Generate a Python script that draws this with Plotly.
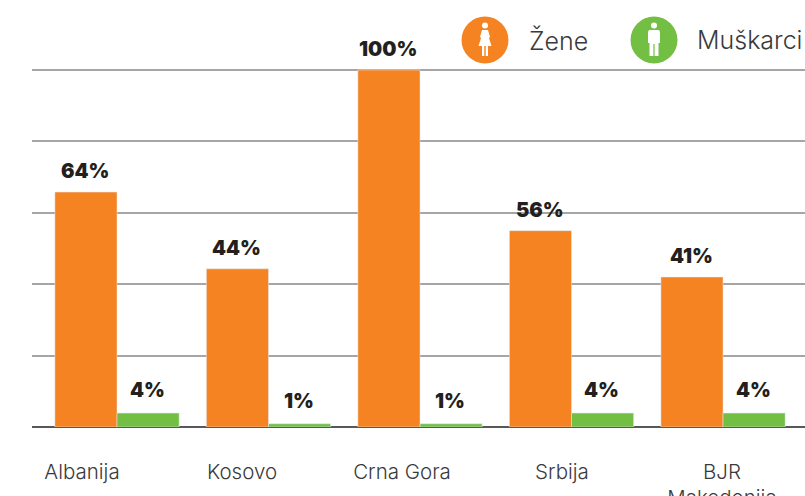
import plotly.graph_objects as go

groups = ["Albanija", "Kosovo", "Crna Gora", "Srbija", "BJR Makedonija"]
tick_labels = ["Albanija", "Kosovo", "Crna Gora", "Srbija", "BJR<br>Makedonija"]
zene_values = [65.8, 44.3, 100, 55, 42]
muskarci_values = [3.9, 0.9, 0.9, 3.9, 3.9]
zene_labels = ["64%", "44%", "100%", "56%", "41%"]
muskarci_labels = ["4%", "1%", "1%", "4%", "4%"]
ORANGE = "#F58322"
GREEN = "#72BF44"

W, H = 805, 496
L, R, T, B = 32, 0, 68, 69
PW, PH = W - L - R, H - T - B


def px(x):
    return (x - L) / PW


def py(y):
    return 1 - (y - T) / PH


def path(points):
    return "M " + " L ".join(f"{px(x):.5f},{py(y):.5f}" for x, y in points) + " Z"


def disc(cx, cy, r, color):
    return dict(type="circle", xref="paper", yref="paper", x0=px(cx - r), x1=px(cx + r),
                y0=py(cy + r), y1=py(cy - r), fillcolor=color, line_width=0, layer="above")


def poly(points):
    return dict(type="path", xref="paper", yref="paper", path=path(points),
                fillcolor="white", line_width=0, layer="above")


fig = go.Figure()
fig.add_bar(x=groups, y=zene_values, marker_color=ORANGE, name="Žene", showlegend=False)
fig.add_bar(x=groups, y=muskarci_values, marker_color=GREEN, name="Muškarci", showlegend=False)
# invisible trace that carries the category labels on their own axis
fig.add_scatter(x=tick_labels, y=[0] * 5, xaxis="x2", mode="markers",
                marker=dict(opacity=0), showlegend=False, hoverinfo="skip")

annotations = []
label_font = dict(family="Inter", size=20, color="#231F20", weight=900)
for g, v, t in zip(groups, zene_values, zene_labels):
    annotations.append(dict(x=g, y=v, text=t, showarrow=False, xshift=-32, yshift=7,
                            yanchor="bottom", font=label_font))
for g, v, t in zip(groups, muskarci_values, muskarci_labels):
    annotations.append(dict(x=g, y=v, text=t, showarrow=False, xshift=30, yshift=9,
                            yanchor="bottom", font=label_font))
for x, t in [(529, "Žene"), (697, "Muškarci")]:
    annotations.append(dict(xref="paper", yref="paper", x=px(x), y=py(40), text=t, showarrow=False,
                            xanchor="left", yanchor="middle", xshift=-2,
                            font=dict(family="Inter", size=25, color="#3a3a3c", weight=300)))

shapes = [disc(485, 40, 23.5, ORANGE), disc(654, 40, 23.5, GREEN)]
# woman icon
shapes += [disc(485, 25.5, 3, "white"),
           poly([(482, 30), (488, 30), (490, 37), (489, 38), (488, 35), (491.5, 46), (478.5, 46), (482, 35), (481, 38), (480, 37)]),
           poly([(482, 46), (484.3, 46), (484.3, 56), (482, 56)]),
           poly([(485.7, 46), (488, 46), (488, 56), (485.7, 56)])]
# man icon
shapes += [disc(654, 25.5, 3, "white"),
           poly([(649, 30), (659, 30), (660, 32), (660, 43), (658.5, 43), (658.5, 56), (654.6, 56), (654.6, 44),
                 (653.4, 44), (653.4, 56), (649.5, 56), (649.5, 43), (648, 43), (648, 32)])]

fig.update_layout(
    width=W, height=H, autosize=False,
    margin=dict(l=L, r=R, t=T, b=B, autoexpand=False),
    paper_bgcolor="white", plot_bgcolor="white",
    barmode="group", bargap=0.18, bargroupgap=0,
    xaxis=dict(type="category", categoryorder="array", categoryarray=groups,
               range=[-0.561, 4.541], showticklabels=False, ticks="", showgrid=False,
               showline=False, zeroline=False, fixedrange=True),
    xaxis2=dict(type="category", categoryorder="array", categoryarray=tick_labels,
                overlaying="x", anchor="y", side="bottom", automargin=False,
                range=[-0.3125, 4.519], showgrid=False, showline=False, zeroline=False,
                ticks="outside", ticklen=26, tickcolor="rgba(0,0,0,0)", tickwidth=1,
                tickfont=dict(family="Inter", size=20.5, color="#3a3a3c", weight=300),
                tickangle=0, fixedrange=True),
    yaxis=dict(range=[0, 100.56], tick0=0, dtick=20, showticklabels=False, ticks="",
               showgrid=True, gridcolor="#a6a6a8", gridwidth=1.5,
               zeroline=True, zerolinecolor="#58585a", zerolinewidth=2,
               showline=False, fixedrange=True),
    annotations=annotations,
    shapes=shapes,
)

fig.write_html("out.html", config={"displayModeBar": False},
               post_script="document.body.style.margin='0';document.documentElement.style.overflow='hidden';")
